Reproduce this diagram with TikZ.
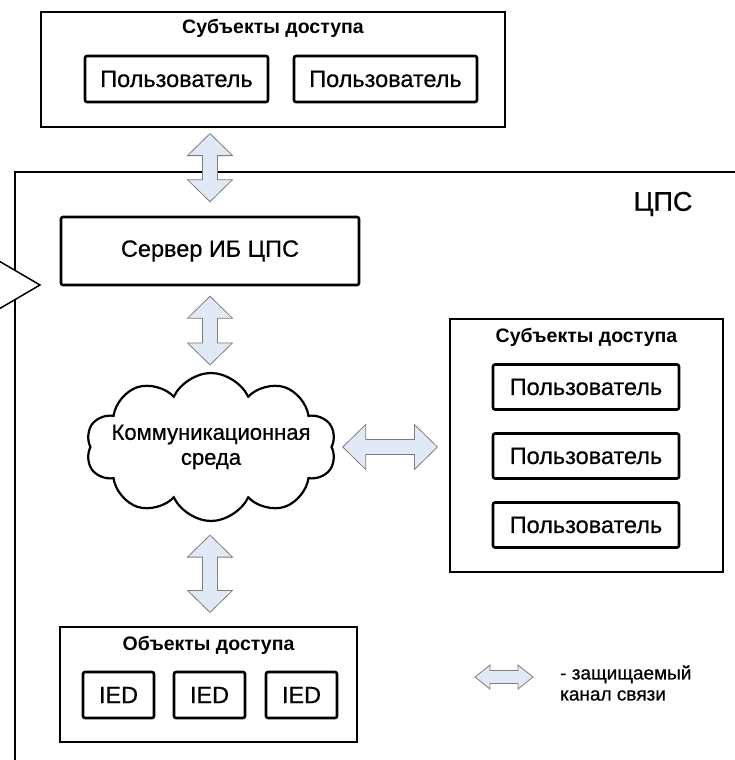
\documentclass[tikz,border=0pt]{standalone}
\usepackage{fontspec}
\setmainfont{Liberation Sans}
\newfontfamily\labelfont[FakeBold=0.6]{Liberation Sans}
\usetikzlibrary{shapes.symbols,calc}

\definecolor{arrowfill}{RGB}{226,233,246}
\definecolor{arrowline}{RGB}{125,125,125}

\tikzset{
  groupbox/.style={draw, line width=1.2pt, fill=white, inner sep=0pt},
  itembox/.style={draw, line width=2.6pt, rounded corners=2pt, fill=white,
    inner sep=0pt, font=\labelfont\fontsize{23.5}{27}\selectfont},
  grouptitle/.style={font=\bfseries\fontsize{19.5}{22}\selectfont, inner sep=0pt},
  chanarrow/.style={draw=arrowline, fill=arrowfill, line width=0.8pt, line join=miter},
}

% vertical two-headed channel arrow between two points (top, bottom)
\newcommand\vchan[2]{%
  \path[chanarrow] let \p1=(#1), \p2=(#2) in
    (\x1,\y1) -- (\x1+22.5pt,\y1-22pt) -- (\x1+7.5pt,\y1-22pt)
    -- (\x1+7.5pt,\y2+22pt) -- (\x1+22.5pt,\y2+22pt) -- (\x1,\y2)
    -- (\x1-22.5pt,\y2+22pt) -- (\x1-7.5pt,\y2+22pt)
    -- (\x1-7.5pt,\y1-22pt) -- (\x1-22.5pt,\y1-22pt) -- cycle;}

% horizontal two-headed channel arrow: left, right, half head, half shaft, head length
\newcommand\hchan[5]{%
  \path[chanarrow] let \p1=(#1), \p2=(#2) in
    (\x1,\y1) -- (\x1+#5,\y1+#3) -- (\x1+#5,\y1+#4)
    -- (\x2-#5,\y1+#4) -- (\x2-#5,\y1+#3) -- (\x2,\y1)
    -- (\x2-#5,\y1-#3) -- (\x2-#5,\y1-#4)
    -- (\x1+#5,\y1-#4) -- (\x1+#5,\y1-#3) -- cycle;}

\begin{document}
\begin{tikzpicture}[x=1pt, y=-1pt]
\useasboundingbox[fill=white] (0,0) rectangle (734,760);

% outline of the protected system
\draw[line width=1.2pt] (15,780) -- (15,172) -- (760,172);
\node[font=\labelfont\fontsize{27}{30}\selectfont] (cps) at (663,204) {ЦПС};

% pointer on the left edge
\draw[line width=1.5pt, fill=white, line join=miter] (-25,247) -- (40,285) -- (-25,323) -- cycle;

% external access subjects
\node[groupbox, minimum width=464pt, minimum height=115pt] (top) at (273,69.5) {};
\node[grouptitle] (toptitle) at (273,28) {Субъекты доступа};
\node[itembox, minimum width=183pt, minimum height=46pt] (u1) at (176.5,79) {Пользователь};
\node[itembox, minimum width=183pt, minimum height=46pt] (u2) at (385.5,79) {Пользователь};

% security server
\node[itembox, minimum width=298pt, minimum height=68pt] (srv) at (210,251) {Сервер ИБ ЦПС};

% communication medium
\node[draw, cloud, cloud puffs=10, cloud puff arc=130, aspect=1.7, line width=2.2pt,
  fill=white, inner sep=0pt, minimum width=250pt, minimum height=148pt,
  label={[align=center, font=\labelfont\fontsize{22}{25}\selectfont]center:Коммуникационная\\среда}]
  (net) at (211,447) {};

% internal access subjects
\node[groupbox, minimum width=273pt, minimum height=253pt] (rbox) at (586.5,445.5) {};
\node[grouptitle] (rtitle) at (586.5,337) {Субъекты доступа};
\node[itembox, minimum width=186pt, minimum height=45pt] (r1) at (586,387) {Пользователь};
\node[itembox, minimum width=186pt, minimum height=45pt] (r2) at (586,456) {Пользователь};
\node[itembox, minimum width=186pt, minimum height=45pt] (r3) at (586,525) {Пользователь};

% access objects
\node[groupbox, minimum width=297pt, minimum height=115pt] (obj) at (208.5,684.5) {};
\node[grouptitle] (otitle) at (208.5,645) {Объекты доступа};
\node[itembox, minimum width=71pt, minimum height=46pt] (d1) at (118.5,695) {IED};
\node[itembox, minimum width=71pt, minimum height=46pt] (d2) at (209.5,695) {IED};
\node[itembox, minimum width=71pt, minimum height=46pt] (d3) at (301.5,695) {IED};

% protected channels
\vchan{$(srv.north |- top.south)+(0,6)$}{$(srv.north)+(0,-14)$}
\vchan{$(srv.south)+(0,10)$}{$(srv.south |- net.north)+(0,-7)$}
\vchan{$(srv.south |- net.south)+(0,13)$}{$(srv.south |- obj.north)+(0,-14)$}
\hchan{$(net.east)+(10,0)$}{$(rbox.west |- net.east)+(-12,0)$}{22.5pt}{7.5pt}{23pt}

% legend
\coordinate (legA) at (475,677);
\coordinate (legB) at (533,677);
\hchan{legA}{legB}{12pt}{6.5pt}{15pt}
\node[anchor=west, align=left, inner sep=0pt, font=\labelfont\fontsize{19}{21}\selectfont]
  (legtext) at (560,683) {- защищаемый\\канал связи};
\end{tikzpicture}
\end{document}
